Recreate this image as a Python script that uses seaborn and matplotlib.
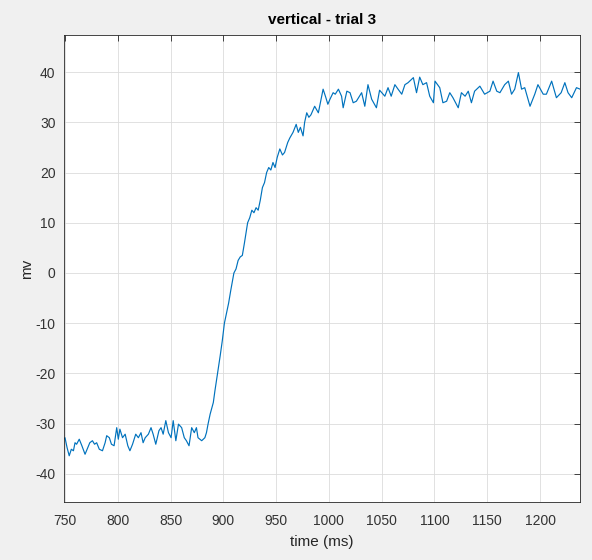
import matplotlib
matplotlib.use("Agg")
import matplotlib.pyplot as plt
import seaborn as sns
import pandas as pd

# signal trace (time in ms, voltage in mV)
time_ms = [
    748, 750, 752, 754, 756, 758, 759.5, 761, 763.5, 766, 769, 771, 773.5, 776, 778, 780,
    782.5, 785.5, 788, 789.5, 792, 794, 796.5, 799, 800.5, 802, 804.5, 807, 809.5, 811.5,
    814, 817, 819.5, 822, 824, 826, 829, 831.5, 833.5, 836, 839, 841, 843, 845.5, 848,
    850.5, 852.5, 855, 857.5, 860.5, 863, 865, 867.5, 870, 872.5, 874.5, 876, 879.5,
    882.5, 884, 885.5, 887.5, 890.5, 892, 894.5, 897, 899, 901, 903, 905, 907, 910, 912,
    914, 916, 918, 920, 923, 925, 927, 929, 931, 933, 935, 937, 939, 941, 943, 945, 947,
    949, 951, 953.5, 956, 958, 961, 963, 966, 969, 971, 973, 975.5, 977, 979, 981, 983,
    986.5, 990, 992, 994.5, 997, 999, 1001, 1004, 1006, 1009, 1012, 1013.5, 1017, 1020,
    1023, 1026, 1031, 1034, 1037, 1040.5, 1045, 1048, 1053, 1056, 1059, 1062.5, 1065.5,
    1069, 1072, 1075, 1080, 1083, 1086, 1089, 1092.5, 1095.5, 1099, 1100.5, 1105, 1108,
    1111.5, 1114.5, 1117.5, 1122.5, 1125.5, 1129, 1132, 1135, 1138, 1143, 1147.5, 1152.5,
    1155.5, 1159, 1162, 1166.5, 1170, 1173, 1176, 1179.5, 1182.5, 1185.5, 1190.5, 1195,
    1198, 1203, 1206, 1211, 1215.5, 1220, 1223.5, 1226.5, 1230, 1234.5, 1238, 1241,
]
signal_mv = [
    -33.3, -32.8, -34.8, -36.4, -35.1, -35.4, -33.8, -34.1, -33.1, -34.4, -36.1, -35.1, -33.8, -33.4, -34.1, -33.8,
    -35.1, -35.4, -33.8, -32.4, -32.8, -34.1, -34.4, -30.8, -33.1, -31.1, -32.8, -32.1, -34.4, -35.4,
    -34.1, -32.1, -32.8, -31.8, -33.8, -32.8, -32.1, -30.8, -32.1, -34.1, -31.4, -30.8, -32.1, -29.4, -31.8,
    -32.8, -29.4, -33.4, -30.1, -30.8, -32.8, -33.4, -34.4, -30.8, -31.8, -30.8, -32.8, -33.4,
    -32.8, -31.8, -30.1, -28.1, -25.8, -23.5, -20.0, -16.5, -13.5, -10.0, -8.0, -6.0, -3.5, 0.0, 0.8,
    2.5, 3.2, 3.5, 6.0, 10.0, 11.0, 12.5, 12.0, 13.0, 12.5, 14.5, 17.0, 18.0, 20.0, 21.0, 20.5, 22.0,
    21.0, 23.0, 24.7, 23.5, 24.0, 26.0, 26.9, 28.0, 29.6, 28.0, 29.0, 27.3, 30.0, 31.9, 31.0, 31.5,
    33.2, 31.9, 34.0, 36.6, 35.0, 33.6, 34.6, 35.9, 35.6, 36.6, 35.2, 32.9, 36.2, 35.9,
    33.9, 34.2, 35.9, 33.2, 37.5, 34.6, 32.9, 36.4, 35.2, 36.9, 35.2, 37.5, 36.6,
    35.6, 37.5, 37.9, 38.9, 35.9, 39.0, 37.5, 37.9, 35.2, 33.9, 38.2, 36.9, 33.9,
    34.2, 35.9, 34.9, 32.9, 35.9, 35.2, 36.2, 33.9, 36.2, 37.2, 35.6, 36.2,
    38.2, 36.2, 35.9, 37.5, 38.2, 35.6, 36.6, 39.9, 36.6, 36.9, 33.2, 35.6,
    37.5, 35.6, 35.6, 38.2, 34.9, 35.9, 37.9, 35.9, 34.9, 36.9, 36.6, 36.0,
]

df = pd.DataFrame({"time": time_ms, "mv": signal_mv})

sns.set_style("whitegrid")
plt.rcParams["font.family"] = ["Liberation Sans", "DejaVu Sans"]
plt.rcParams["axes.unicode_minus"] = False

fig = plt.figure(figsize=(5.92, 5.6), dpi=100, facecolor="#f0f0f0")
ax = fig.add_axes([0.108, 0.1036, 0.872, 0.834])
ax.set_facecolor("white")

sns.lineplot(data=df, x="time", y="mv", ax=ax, color="#0072BD", linewidth=0.85, sort=False)

ax.set_xlim(749, 1238)
ax.set_ylim(-45.6, 47.4)
ax.set_xticks(range(750, 1201, 50))
ax.set_yticks(range(-40, 41, 10))

ax.grid(True, color="#dcdcdc", linewidth=0.6)
for s in ax.spines.values():
    s.set_color("#262626")
    s.set_linewidth(0.6)
ax.tick_params(direction="in", length=4, width=0.6, color="#262626",
               labelsize=10, labelcolor="#333333", top=True, right=True,
               labeltop=False, labelright=False)
ax.tick_params(axis="x", pad=9)
ax.tick_params(axis="y", pad=6)

ax.set_title("vertical - trial 3", fontsize=11, fontweight="bold", color="black", pad=8)
ax.set_xlabel("time (ms)", fontsize=11, color="#262626", labelpad=5)
ax.set_ylabel("mv", fontsize=11, color="#262626", labelpad=1)

fig.savefig("out.png", dpi=100, facecolor=fig.get_facecolor())
